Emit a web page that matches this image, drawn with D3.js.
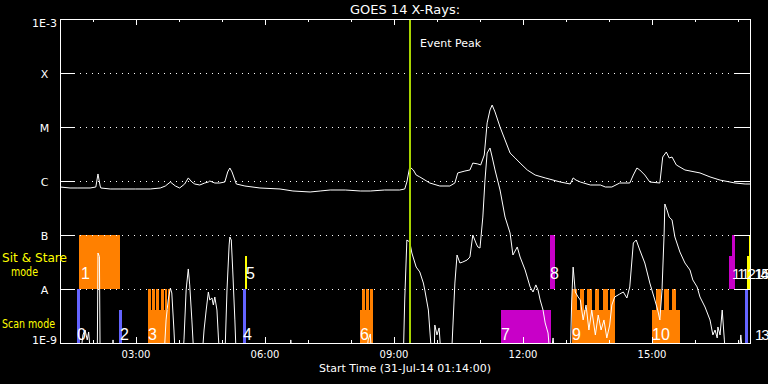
<!DOCTYPE html>
<html><head><meta charset="utf-8">
<script src="https://cdn.jsdelivr.net/npm/d3@7"></script>
<style>body{margin:0;background:#000}svg{display:block}</style>
</head><body><svg id="c" width="768" height="384"></svg>
<script>
// ---------------- DATA ----------------
const longTimes = ["01:14","01:28","01:39","01:56","02:04","02:07","02:10","02:11","02:24","02:38","02:59","03:20","03:34","03:41","03:48","03:55","04:01","04:08","04:13","04:18","04:22","04:29","04:36","04:41","04:43","04:50","04:57","05:04","05:08","05:11","05:14","05:20","05:32","05:53","06:21","06:39","07:03","07:17","07:31","07:52","08:13","08:27","08:47","09:08","09:15","09:18","09:22","09:27","09:31","09:36","09:50","10:04","10:18","10:25","10:29","10:39","10:46","10:50","10:57","11:01","11:06","11:10","11:14","11:17","11:21","11:28","11:35","11:42","11:49","11:56","12:06","12:17","12:31","12:52","13:06","13:10","13:14","13:20","13:34","13:48","13:55","14:04","14:15","14:29","14:34","14:39","14:43","14:50","14:57","15:11","15:15","15:20","15:24","15:28","15:34","15:46","16:07","16:21","16:35","16:56","17:10","17:17"];
const longFlux = [7.74e-7,7.42e-7,7.42e-7,7.42e-7,7.74e-7,1.35e-6,8.08e-7,7.42e-7,7.11e-7,7.11e-7,7.11e-7,7.11e-7,7.42e-7,8.08e-7,9.58e-7,8.08e-7,7.42e-7,8.80e-7,1.14e-6,9.58e-7,8.80e-7,8.43e-7,9.18e-7,9.58e-7,1.00e-6,9.18e-7,9.18e-7,9.58e-7,1.47e-6,1.74e-6,1.47e-6,8.80e-7,8.08e-7,7.42e-7,7.11e-7,6.53e-7,6.26e-7,6.53e-7,6.81e-7,6.81e-7,6.53e-7,6.53e-7,6.81e-7,6.81e-7,7.11e-7,9.58e-7,1.82e-6,1.60e-6,1.29e-6,1.19e-6,9.18e-7,8.08e-7,8.08e-7,9.18e-7,1.41e-6,1.53e-6,1.60e-6,2.15e-6,2.07e-6,1.98e-6,3.03e-6,1.19e-5,2.07e-5,2.55e-5,1.90e-5,1.00e-5,5.75e-6,3.30e-6,2.67e-6,2.15e-6,1.60e-6,1.29e-6,1.14e-6,9.58e-7,8.80e-7,1.14e-6,1.04e-6,9.58e-7,8.43e-7,8.43e-7,7.74e-7,7.74e-7,9.18e-7,9.18e-7,1.29e-6,1.74e-6,1.60e-6,1.29e-6,9.58e-7,9.18e-7,2.78e-6,3.44e-6,2.67e-6,2.78e-6,1.98e-6,1.60e-6,1.41e-6,1.19e-6,1.04e-6,9.18e-7,8.80e-7,8.80e-7];

const shortTimes = ["01:14","01:42","01:46","01:49","01:52","01:54","01:57","02:06","02:07","02:09","02:10","02:27","02:28","02:29","03:39","03:42","03:45","03:48","03:50","03:53","03:55","04:05","04:07","04:10","04:13","04:15","04:18","04:21","04:32","04:35","04:38","04:41","04:43","04:46","04:48","04:50","04:53","04:55","04:57","05:04","05:07","05:10","05:11","05:13","05:15","05:18","05:20","06:35","06:36","06:38","08:21","08:24","08:27","08:29","09:13","09:15","09:18","09:22","09:25","09:31","09:36","09:41","09:43","09:48","09:50","09:53","09:56","09:57","10:00","10:03","10:06","10:18","10:21","10:25","10:28","10:32","10:36","10:42","10:46","10:50","10:55","10:57","11:00","11:04","11:07","11:10","11:14","11:17","11:21","11:28","11:35","11:42","11:46","11:52","11:56","12:03","12:10","12:14","12:18","12:21","12:24","12:28","12:31","12:35","12:38","12:42","12:45","13:06","13:08","13:10","13:13","13:17","13:20","13:24","13:28","13:32","13:36","13:41","13:45","13:49","13:53","13:57","14:01","14:04","14:08","14:15","14:20","14:25","14:29","14:34","14:38","14:43","14:50","14:57","15:04","15:08","15:11","15:14","15:17","15:18","15:21","15:24","15:28","15:32","15:39","15:46","15:53","15:57","16:03","16:07","16:14","16:21","16:25","16:28","16:31","16:32","16:35","16:38","16:41","16:43","17:01","17:04","17:07","17:17"];
const shortFlux = [5e-10,5e-10,1.41e-9,1.74e-9,1.14e-9,1.60e-9,5e-10,5e-10,4.64e-8,4.0e-8,5e-10,5e-10,1.14e-9,5e-10,5e-10,2.67e-9,6.26e-9,1.04e-8,8.43e-9,1.74e-9,5e-10,5e-10,1.14e-9,9.58e-9,2.35e-8,1.19e-8,2.67e-9,5e-10,5e-10,1.74e-9,4.08e-9,8.80e-9,6.26e-9,6.81e-9,5.05e-9,7.11e-9,4.08e-9,1.29e-9,5e-10,5e-10,9.58e-9,6.53e-8,9.18e-8,8.08e-8,2.25e-8,2.67e-9,5e-10,5e-10,1.14e-9,5e-10,5e-10,1.14e-9,1.47e-9,5e-10,5e-10,6.26e-9,8.08e-8,7.42e-8,4.64e-8,2.55e-8,2.07e-8,1.29e-8,9.58e-9,4.08e-9,1.74e-9,5e-10,5e-10,2.15e-9,1.41e-9,1.90e-9,5e-10,5e-10,9.2e-10,1.29e-8,4.26e-8,3.03e-8,3.16e-8,3.44e-8,3.91e-8,1.00e-7,6.81e-8,6.00e-8,5.74e-8,2.15e-7,1.04e-6,3.30e-6,4.08e-6,2.78e-6,1.60e-6,6.81e-7,2.15e-7,1.09e-7,4.26e-8,6.00e-8,3.91e-8,2.25e-8,1.09e-8,8.80e-9,1.19e-8,9.58e-9,6.26e-9,4.08e-9,2.35e-9,1.53e-9,5e-10,1.24e-9,5e-10,5e-10,6.26e-9,2.55e-8,8.80e-9,7.11e-9,6.26e-9,2.67e-9,5.05e-9,1.74e-9,4.08e-9,1.41e-9,3.30e-9,1.74e-9,2.67e-9,1.24e-9,2.15e-9,5.05e-9,7.11e-9,8.08e-9,8.80e-9,6.81e-9,1.09e-8,7.11e-8,8.08e-8,5.27e-8,3.03e-8,1.29e-8,6.26e-9,4.08e-9,2.67e-9,9.58e-9,1.09e-7,3.75e-7,2.90e-7,2.15e-7,1.90e-7,9.18e-8,4.84e-8,3.03e-8,2.25e-8,1.47e-8,1.09e-8,7.11e-9,4.64e-9,2.67e-9,1.41e-9,1.74e-9,1.24e-9,1.98e-9,1.41e-9,4.08e-9,1.14e-9,5e-10,5e-10,1.41e-9,5e-10,5e-10];

// observation blocks (mode bars): start, end, low flux, high flux, observing program
const barStart = ["01:37:43","01:40:31","02:36:19","03:16:47","03:16:47","03:22:22","03:28:22","03:34:31","03:40:05","03:45:07","05:29:21","05:32:08","08:12:36","08:15:23","08:21:23","08:26:33","11:29:21","12:37:43","13:08:25","13:08:25","13:19:34","13:30:02","13:40:30","13:51:40","14:02:08","15:00:02","15:06:19","15:16:47","15:27:15","16:47:29","16:51:40","17:09:48","17:12:36","17:15:23"];
const barEnd   = ["01:41:54","02:37:43","02:40:31","03:47:29","03:20:33","03:26:33","03:32:33","03:38:42","03:43:43","03:47:29","05:33:32","05:34:56","08:30:44","08:19:35","08:25:09","08:30:44","12:39:07","12:44:41","14:08:25","13:15:23","13:25:51","13:37:01","13:46:47","13:57:57","14:08:25","15:39:06","15:12:36","15:23:04","15:33:32","16:51:40","16:55:51","17:13:59","17:16:47","17:16:47"];
const barLow   = [1e-9,1e-8,1e-9,1e-9,1e-9,1e-9,1e-9,1e-9,1e-9,1e-9,1e-9,1e-8,1e-9,1e-9,1e-9,1e-9,1e-9,1e-8,1e-9,1e-9,1e-9,1e-9,1e-9,1e-9,1e-9,1e-9,1e-9,1e-9,1e-9,1e-8,1e-8,1e-9,1e-8,4.1e-8];
const barHigh  = [1e-8,1e-7,4.1e-9,4.1e-9,1e-8,1e-8,1e-8,1e-8,1e-8,1e-8,1e-8,4.1e-8,4.1e-9,1e-8,1e-8,1e-8,4.1e-9,1e-7,4.1e-9,1e-8,1e-8,1e-8,1e-8,1e-8,1e-8,4.1e-9,1e-8,1e-8,1e-8,4.1e-8,1e-7,1e-8,4.1e-8,1e-7];
const barProg  = ["P1","P2","P1","P2","P2","P2","P2","P2","P2","P2","P1","P3","P2","P2","P2","P2","P4","P4","P2","P2","P2","P2","P2","P2","P2","P2","P2","P2","P2","P4","P4","P1","P3","P3"];

// observation numbers: label, time, mode row
const obsLabel = ["0","1","2","3","4","5","6","7","8","9","10","11","12","13","14","15"];
const obsTime  = ["01:39:07","01:44:42","02:39:07","03:18:11","05:30:44","05:34:56","08:14:00","11:30:44","12:39:07","13:09:48","15:01:26","16:53:04","17:06:00","17:25:10","17:24:00","17:25:10"];
const obsRow   = ["scan","sit","scan","scan","scan","sit","scan","scan","sit","scan","scan","sit","sit","scan","sit","sit"];

const yTickVals = [1e-9,1e-8,1e-7,1e-6,1e-5,1e-4,1e-3];
const yTickText = ["1E-9","A","B","C","M","X","1E-3"];
const gridVals  = [1e-8,1e-7,1e-6,1e-5,1e-4];
const timeRange = ["01:14:00","17:16:47"];
const eventPeak = "09:22:22";
const titleText = "GOES 14 X-Rays:";
const xTitle = "Start Time (31-Jul-14 01:14:00)";

// ---------------- DRAW ----------------
const pHM = d3.timeParse("%H:%M"), pHMS = d3.timeParse("%H:%M:%S");
const T = s => s.length === 5 ? pHM(s) : pHMS(s);
const L = 60, R = 750, TOP = 19, BOT = 343;
const x = d3.scaleTime().domain(timeRange.map(T)).range([L, R]);
const y = d3.scaleLog().domain([1e-9, 1e-3]).range([BOT, TOP]);
const progColor = {P1: "#6464ff", P2: "#ff8000", P3: "#ffff00", P4: "#c800c8"};
const font = "DejaVu Sans";

const svg = d3.select("#c");
svg.append("rect").attr("width", 768).attr("height", 384).attr("fill", "#000");
svg.append("defs").append("clipPath").attr("id", "clip")
  .append("rect").attr("x", L).attr("y", TOP).attr("width", R - L).attr("height", BOT - TOP);

const plot = svg.append("g").attr("clip-path", "url(#clip)");

// grid dotted lines
gridVals.forEach(v => {
  svg.append("line").attr("x1", L + 20).attr("x2", R - 15)
    .attr("y1", Math.round(y(v)) + 0.5).attr("y2", Math.round(y(v)) + 0.5)
    .attr("stroke", "#fff").attr("stroke-width", 1).attr("stroke-dasharray", "1,5")
    .attr("shape-rendering", "crispEdges");
});

// mode bars
const bars = barStart.map((s, i) => ({s: T(s), e: T(barEnd[i]), lo: barLow[i], hi: barHigh[i], p: barProg[i]}));
plot.selectAll("rect.bar").data(bars).join("rect").attr("class", "bar")
  .attr("x", d => Math.round(x(d.s)))
  .attr("width", d => Math.max(1, Math.round(x(d.e)) - Math.round(x(d.s))))
  .attr("y", d => Math.round(y(d.hi)))
  .attr("height", d => Math.round(y(d.lo)) - Math.round(y(d.hi)))
  .attr("fill", d => progColor[d.p])
  .attr("shape-rendering", "crispEdges");

// curves
const line = d3.line().x(d => x(d[0])).y(d => y(d[1]));
const longData = longTimes.map((t, i) => [T(t), longFlux[i]]);
const shortData = shortTimes.map((t, i) => [T(t), shortFlux[i]]);
[longData, shortData].forEach(data => {
  plot.append("path").datum(data).attr("d", line)
    .attr("fill", "none").attr("stroke", "#fff").attr("stroke-width", 1)
    .attr("stroke-linejoin", "miter");
});

// observation number labels
obsLabel.forEach((lab, i) => {
  const tight = i >= 11;
  svg.append("text").attr("x", x(T(obsTime[i])) - 1)
    .attr("y", obsRow[i] === "sit" ? 279 : 340)
    .attr("fill", "#fff").attr("font-family", "Liberation Sans").attr("font-size", tight ? 15 : 16)
    .attr("letter-spacing", tight ? -2 : 0)
    .text(lab);
});

// event peak line
svg.append("line").attr("x1", x(T(eventPeak))).attr("x2", x(T(eventPeak)))
  .attr("y1", TOP).attr("y2", BOT).attr("stroke", "#a8d400").attr("stroke-width", 2)
  .attr("shape-rendering", "crispEdges");
svg.append("text").attr("x", x(T(eventPeak)) + 10).attr("y", 47)
  .attr("fill", "#fff").attr("font-family", font).attr("font-size", 11).text("Event Peak");

// frame
svg.append("rect").attr("x", L + 0.5).attr("y", TOP + 0.5).attr("width", R - L).attr("height", BOT - TOP)
  .attr("fill", "none").attr("stroke", "#fff").attr("stroke-width", 1).attr("shape-rendering", "crispEdges");

// y ticks
yTickVals.forEach((v, i) => {
  const yy = Math.round(y(v)) + 0.5;
  svg.append("line").attr("x1", L).attr("x2", L + 15).attr("y1", yy).attr("y2", yy)
    .attr("stroke", "#fff").attr("shape-rendering", "crispEdges");
  svg.append("line").attr("x1", R - 15).attr("x2", R).attr("y1", yy).attr("y2", yy)
    .attr("stroke", "#fff").attr("shape-rendering", "crispEdges");
  let by = y(v) + 5;
  if (i === yTickVals.length - 1) by = y(v) + 8;
  if (i === 0) by = y(v) + 1;
  svg.append("text").attr("x", 44.5).attr("y", by).attr("text-anchor", "middle")
    .attr("fill", "#fff").attr("font-family", font).attr("font-size", 11).text(yTickText[i]);
});

// time ticks
const fmt = d3.timeFormat("%H:%M");
d3.timeHour.range(T("02:00"), T(timeRange[1])).forEach(h => {
  const major = h.getHours() % 3 === 0;
  const len = major ? 6 : 3;
  const xx = Math.round(x(h)) + 0.5;
  svg.append("line").attr("x1", xx).attr("x2", xx).attr("y1", TOP).attr("y2", TOP + len)
    .attr("stroke", "#fff").attr("shape-rendering", "crispEdges");
  svg.append("line").attr("x1", xx).attr("x2", xx).attr("y1", BOT).attr("y2", BOT - len)
    .attr("stroke", "#fff").attr("shape-rendering", "crispEdges");
  if (major) {
    svg.append("text").attr("x", x(h)).attr("y", 358).attr("text-anchor", "middle")
      .attr("fill", "#fff").attr("font-family", font).attr("font-size", 10).text(fmt(h));
  }
});

// titles
svg.append("text").attr("x", (L + R) / 2).attr("y", 14).attr("text-anchor", "middle")
  .attr("fill", "#fff").attr("font-family", font).attr("font-size", 13).text(titleText);
svg.append("text").attr("x", (L + R) / 2).attr("y", 372).attr("text-anchor", "middle")
  .attr("fill", "#fff").attr("font-family", font).attr("font-size", 11).text(xTitle);

// mode row labels
const modeTxt = [["Sit & Stare", 2, 262, 65], ["mode", 11, 276, 27], ["Scan mode", 2, 328, 53]];
modeTxt.forEach(m => svg.append("text").attr("x", m[1]).attr("y", m[2])
  .attr("textLength", m[3]).attr("lengthAdjust", "spacingAndGlyphs")
  .attr("fill", "#ffff00").attr("font-family", font).attr("font-size", 11.5).text(m[0]));
</script></body></html>
